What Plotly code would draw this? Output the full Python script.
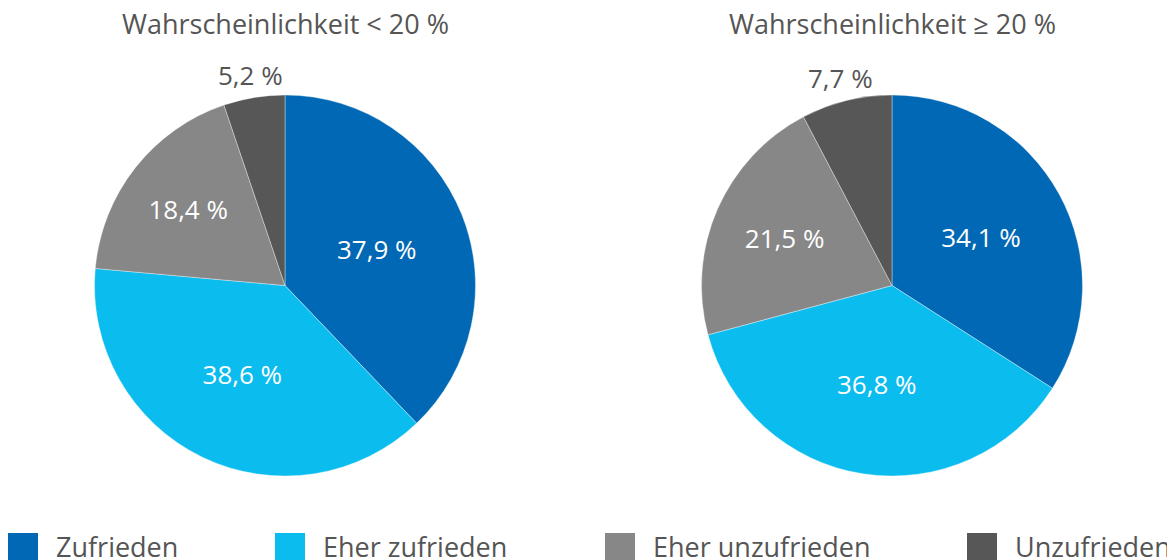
import math
import plotly.graph_objects as go

categories = ["Zufrieden", "Eher zufrieden", "Eher unzufrieden", "Unzufrieden"]
values_low = [37.9, 38.6, 18.4, 5.2]
values_high = [34.1, 36.8, 21.5, 7.7]
titles = ["Wahrscheinlichkeit < 20 %", "Wahrscheinlichkeit ≥ 20 %"]
colors = ["#0068b4", "#0bbcef", "#878787", "#575757"]

# page has an 8px body margin; figure fills the rest of the 1175x560 window
OFF = 8
W, H = 1175 - OFF, 560 - OFF
FONT = "Open Sans"
GREY = "#555555"
CY = 285.5
RADIUS = 190.5
CENTERS = [285, 892]


def px(x):
    return (x - OFF) / W


def py(y):
    return 1 - (y - OFF) / H


def fmt(v):
    return f"{v:.1f}".replace(".", ",") + " %"


fig = go.Figure()
annotations = []
for vals, cx in zip([values_low, values_high], CENTERS):
    dom = dict(x=[px(cx - RADIUS), px(cx + RADIUS)], y=[py(CY + RADIUS), py(CY - RADIUS)])
    small = [v < 10 for v in vals]
    fig.add_trace(go.Pie(
        labels=categories,
        values=vals,
        sort=False,
        direction="clockwise",
        rotation=0,
        domain=dom,
        marker=dict(colors=colors, line=dict(color="rgba(255,255,255,0.6)", width=0.6)),
        texttemplate=["" if s else "%{value:.1f} %" for s in small],
        textposition="inside",
        textfont=dict(family=FONT, size=26, color="white"),
        insidetextorientation="horizontal",
        hoverinfo="label+value",
        showlegend=False,
        automargin=False,
    ))
    # outside labels for the small slices, placed along the slice's mid angle
    total = sum(vals)
    cum = 0.0
    for v, s in zip(vals, small):
        mid = (cum + v / 2) / total * 2 * math.pi
        cum += v
        if s:
            d = RADIUS + 23
            annotations.append(dict(
                text=fmt(v),
                x=px(cx + d * math.sin(mid)), y=py(CY - d * math.cos(mid)),
                xref="paper", yref="paper", xanchor="center", yanchor="middle",
                showarrow=False, font=dict(family=FONT, size=26, color=GREY),
            ))

for t, cx in zip(titles, CENTERS):
    annotations.append(dict(
        text=t, x=px(cx), y=py(23), xref="paper", yref="paper",
        xanchor="center", yanchor="middle", showarrow=False,
        font=dict(family=FONT, size=27, color=GREY),
    ))

# custom legend
legend_x = [8, 275, 605, 967]
shapes = []
for cat, col, lx in zip(categories, colors, legend_x):
    shapes.append(dict(
        type="rect", xref="paper", yref="paper",
        x0=px(lx), x1=px(lx + 30), y0=py(563), y1=py(533),
        fillcolor=col, line=dict(width=0),
    ))
    annotations.append(dict(
        text=cat, x=px(lx + 46), y=py(546), xref="paper", yref="paper",
        xanchor="left", yanchor="middle", showarrow=False,
        font=dict(family=FONT, size=27, color=GREY),
    ))

fig.update_layout(
    width=W, height=H,
    margin=dict(l=0, r=0, t=0, b=0),
    paper_bgcolor="white", plot_bgcolor="white",
    separators=",.",
    annotations=annotations,
    shapes=shapes,
    font=dict(family=FONT, color=GREY),
)

fig.write_html("out.html")
